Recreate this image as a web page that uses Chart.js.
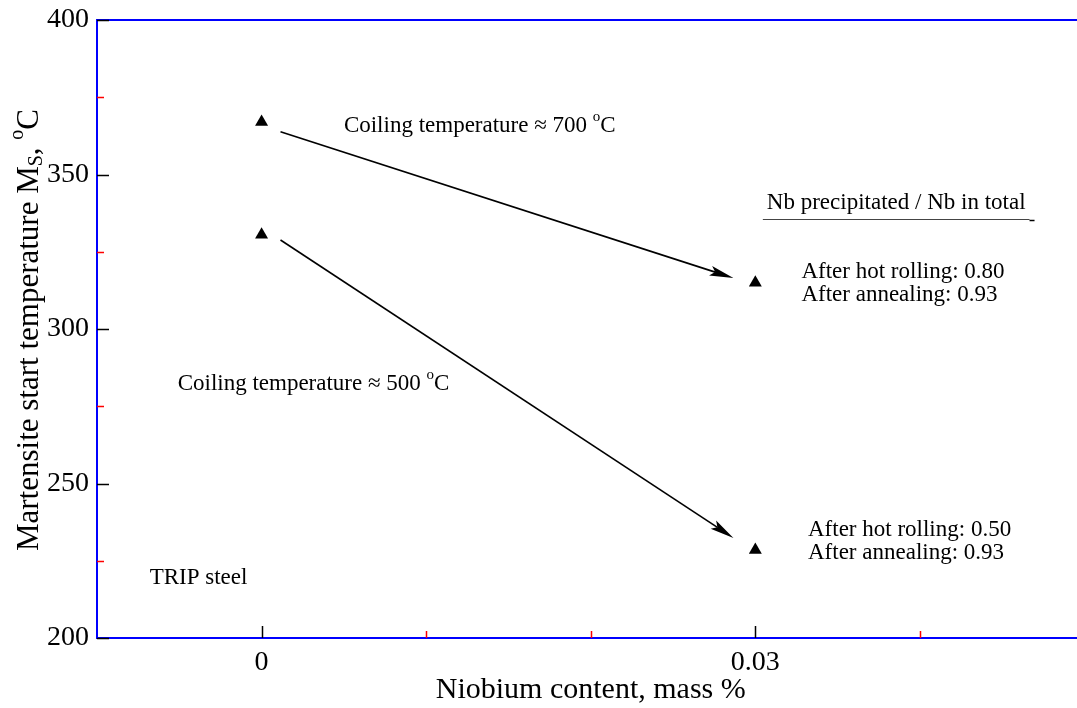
<!DOCTYPE html>
<html>
<head>
<meta charset="utf-8">
<script src="https://cdn.jsdelivr.net/npm/chart.js@4.4.1/dist/chart.umd.min.js"></script>
<style>
  html, body { margin: 0; padding: 0; background: #fff; overflow: hidden; }
  #wrap { width: 1077px; height: 708px; overflow: hidden; }
</style>
</head>
<body>
<div id="wrap"><canvas id="grafico" width="1092" height="708"></canvas></div>
<script>
// dados
const niobio = [0, 0.03];                 // mass %
const msCoiling700 = [367, 315];          // Ms, °C
const msCoiling500 = [330.5, 228.5];      // Ms, °C
const yTicks = [200, 250, 300, 350, 400];
const yMinorTicks = [225, 275, 325, 375];
const xTicks = [0, 0.03];
const xTickLabels = ['0', '0.03'];
const xMinorTicks = [0.01, 0.02, 0.04];

// anotações (coordenadas em unidades dos eixos)
const setas = [
  { de: [0.00115, 363.8], ate: [0.02867, 316.5] },
  { de: [0.00115, 328.8], ate: [0.02867, 232.4] }
];
const textos = [
  { x: 0.0050, y: 365.7, partes: [{ t: 'Coiling temperature \u2248 700 ' }, { t: 'o', sup: true }, { t: 'C' }] },
  { x: -0.0051, y: 282.2, partes: [{ t: 'Coiling temperature \u2248 500 ' }, { t: 'o', sup: true }, { t: 'C' }] },
  { x: 0.0307, y: 340.8, partes: [{ t: 'Nb precipitated / Nb in total' }], sublinhado: true },
  { x: 0.0328, y: 318.4, partes: [{ t: 'After hot rolling: 0.80' }] },
  { x: 0.0328, y: 311.0, partes: [{ t: 'After annealing: 0.93' }] },
  { x: 0.0332, y: 235.0, partes: [{ t: 'After hot rolling: 0.50' }] },
  { x: 0.0332, y: 227.6, partes: [{ t: 'After annealing: 0.93' }] },
  { x: -0.0068, y: 219.4, partes: [{ t: 'TRIP steel' }] }
];

const fonte = '"Liberation Serif", "Times New Roman", serif';

function desenhaRico(ctx, partes, x, y, tam) {
  let cx = x;
  partes.forEach(p => {
    if (p.sup) {
      ctx.font = Math.round(tam * 0.65) + 'px ' + fonte;
      ctx.fillText(p.t, cx, y - tam * 0.38);
    } else if (p.sub) {
      ctx.font = Math.round(tam * 0.65) + 'px ' + fonte;
      ctx.fillText(p.t, cx, y + tam * 0.22);
    } else {
      ctx.font = tam + 'px ' + fonte;
      ctx.fillText(p.t, cx, y);
    }
    cx += ctx.measureText(p.t).width;
  });
  return cx - x;
}

function larguraRica(ctx, partes, tam) {
  let w = 0;
  partes.forEach(p => {
    ctx.font = (p.sup || p.sub ? Math.round(tam * 0.65) : tam) + 'px ' + fonte;
    w += ctx.measureText(p.t).width;
  });
  return w;
}

const pluginDesenho = {
  id: 'desenho',
  afterDraw(chart) {
    const ctx = chart.ctx;
    const xs = chart.scales.x, ys = chart.scales.y;
    const a = chart.chartArea;
    ctx.save();

    // eixos azuis
    ctx.strokeStyle = '#0000ff';
    ctx.lineWidth = 2;
    ctx.beginPath();
    ctx.moveTo(a.left, a.top); ctx.lineTo(a.right, a.top);
    ctx.moveTo(a.left, a.top - 1); ctx.lineTo(a.left, a.bottom + 1);
    ctx.moveTo(a.left, a.bottom); ctx.lineTo(a.right, a.bottom);
    ctx.stroke();

    // marcas dos eixos
    ctx.lineWidth = 1.5;
    ctx.strokeStyle = '#000';
    ctx.beginPath();
    yTicks.forEach(v => { const py = Math.round(ys.getPixelForValue(v)) + 0.5; ctx.moveTo(a.left, py); ctx.lineTo(a.left + 12, py); });
    xTicks.forEach(v => { const px = Math.round(xs.getPixelForValue(v)) + 0.5; ctx.moveTo(px, a.bottom); ctx.lineTo(px, a.bottom - 12); });
    ctx.stroke();
    ctx.strokeStyle = '#ff0000';
    ctx.beginPath();
    yMinorTicks.forEach(v => { const py = Math.round(ys.getPixelForValue(v)) + 0.5; ctx.moveTo(a.left, py); ctx.lineTo(a.left + 7, py); });
    xMinorTicks.forEach(v => { const px = Math.round(xs.getPixelForValue(v)) + 0.5; ctx.moveTo(px, a.bottom); ctx.lineTo(px, a.bottom - 7); });
    ctx.stroke();

    // setas
    ctx.strokeStyle = '#000';
    ctx.fillStyle = '#000';
    ctx.lineWidth = 1.6;
    setas.forEach(s => {
      const x1 = xs.getPixelForValue(s.de[0]), y1 = ys.getPixelForValue(s.de[1]);
      const x2 = xs.getPixelForValue(s.ate[0]), y2 = ys.getPixelForValue(s.ate[1]);
      const ang = Math.atan2(y2 - y1, x2 - x1);
      const comp = 24, larg = 5;
      ctx.beginPath();
      ctx.moveTo(x1, y1);
      ctx.lineTo(x2 - comp * 0.8 * Math.cos(ang), y2 - comp * 0.8 * Math.sin(ang));
      ctx.stroke();
      ctx.beginPath();
      ctx.moveTo(x2, y2);
      ctx.lineTo(x2 - comp * Math.cos(ang) + larg * Math.sin(ang), y2 - comp * Math.sin(ang) - larg * Math.cos(ang));
      ctx.lineTo(x2 - comp * 0.8 * Math.cos(ang), y2 - comp * 0.8 * Math.sin(ang));
      ctx.lineTo(x2 - comp * Math.cos(ang) - larg * Math.sin(ang), y2 - comp * Math.sin(ang) + larg * Math.cos(ang));
      ctx.closePath();
      ctx.fill();
    });

    // textos
    ctx.textBaseline = 'middle';
    ctx.textAlign = 'left';
    textos.forEach(t => {
      const px = xs.getPixelForValue(t.x), py = ys.getPixelForValue(t.y);
      const w = desenhaRico(ctx, t.partes, px, py, 23);
      if (t.sublinhado) {
        const ly = Math.round(py + 16) + 0.5;
        ctx.strokeStyle = '#444';
        ctx.lineWidth = 1;
        ctx.beginPath();
        ctx.moveTo(px - 4, ly);
        ctx.lineTo(px + w + 4, ly);
        ctx.stroke();
        ctx.strokeStyle = '#000';
        ctx.lineWidth = 1.5;
        ctx.beginPath();
        ctx.moveTo(px + w + 4, ly + 1);
        ctx.lineTo(px + w + 9, ly + 1);
        ctx.stroke();
      }
    });

    // título do eixo y
    const tituloY = [{ t: 'Martensite start temperature M' }, { t: 'S', sub: true }, { t: ', ' }, { t: 'o', sup: true }, { t: 'C' }];
    const tam = 31;
    const w = larguraRica(ctx, tituloY, tam);
    ctx.translate(30, (a.top + a.bottom) / 2 + 1);
    ctx.rotate(-Math.PI / 2);
    desenhaRico(ctx, tituloY, -w / 2, 0, tam);
    ctx.restore();
  }
};

const ctx = document.getElementById('grafico').getContext('2d');
const grafico = new Chart(ctx, {
  type: 'scatter',
  data: {
    datasets: [
      {
        label: 'Coiling temperature 700',
        data: niobio.map((x, i) => ({ x: x, y: msCoiling700[i] })),
        pointStyle: 'triangle', pointRadius: 7.5, backgroundColor: '#000', borderColor: '#000', borderWidth: 0
      },
      {
        label: 'Coiling temperature 500',
        data: niobio.map((x, i) => ({ x: x, y: msCoiling500[i] })),
        pointStyle: 'triangle', pointRadius: 7.5, backgroundColor: '#000', borderColor: '#000', borderWidth: 0
      }
    ]
  },
  options: {
    responsive: false,
    animation: false,
    layout: { padding: { top: 20, right: 2, left: 0, bottom: 0 } },
    plugins: { legend: { display: false }, tooltip: { enabled: false } },
    scales: {
      x: {
        type: 'linear', min: -0.01, max: 0.05,
        border: { display: false },
        grid: { display: false },
        afterBuildTicks: s => { s.ticks = xTicks.map(v => ({ value: v })); },
        afterFit: s => { s.height = 70; },
        ticks: {
          color: '#000', padding: 0, maxRotation: 0,
          font: { family: fonte, size: 28 },
          callback: (v, i) => xTickLabels[i]
        },
        title: {
          display: true, text: 'Niobium content, mass %', color: '#000',
          font: { family: fonte, size: 30 }, padding: { top: 4, bottom: 0 }
        }
      },
      y: {
        min: 200, max: 400,
        border: { display: false },
        grid: { display: false },
        afterBuildTicks: s => { s.ticks = yTicks.map(v => ({ value: v })); },
        afterFit: s => { s.width = 97; },
        ticks: { color: '#000', padding: 0, font: { family: fonte, size: 28 } }
      }
    }
  },
  plugins: [pluginDesenho]
});
</script>
</body>
</html>
